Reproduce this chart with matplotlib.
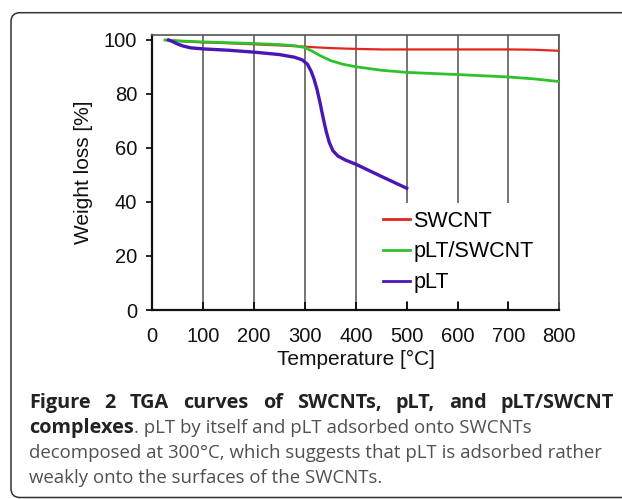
import matplotlib
matplotlib.use('Agg')
import matplotlib.pyplot as plt
from matplotlib.patches import FancyBboxPatch
from matplotlib.transforms import IdentityTransform

# TGA data
temp_swcnt = [25, 60, 100, 150, 200, 250, 300, 350, 400, 450, 500, 600, 700, 750, 800]
wt_swcnt = [100, 99.5, 99.1, 98.8, 98.4, 98.0, 97.5, 97.0, 96.7, 96.5, 96.5, 96.5, 96.5, 96.4, 96.0]

temp_complex = [25, 60, 100, 150, 200, 250, 280, 300, 315, 330, 350, 375, 400, 450, 500, 600, 700, 750, 800]
wt_complex = [100, 99.6, 99.3, 99.0, 98.7, 98.3, 97.9, 97.2, 95.8, 94.2, 92.4, 91.0, 90.1, 88.8, 88.0, 87.2, 86.3, 85.6, 84.6]

temp_plt = [32, 40, 50, 60, 75, 100, 150, 200, 250, 280, 295, 305, 312, 318, 324, 330, 336, 342, 348, 355, 365, 380, 400, 450, 500]
wt_plt = [100, 99.4, 98.5, 97.8, 97.1, 96.7, 96.2, 95.5, 94.6, 93.6, 92.6, 91.0, 88.5, 85.5, 81.5, 76.5, 71.0, 66.0, 62.0, 59.0, 57.0, 55.5, 54.0, 49.5, 45.1]

x_ticks = [0, 100, 200, 300, 400, 500, 600, 700, 800]
y_ticks = [0, 20, 40, 60, 80, 100]

W, H = 622, 499
fig = plt.figure(figsize=(W / 100, H / 100), dpi=100)

# rounded caption frame
frame = FancyBboxPatch((11, 1.5), 720, 484.8, boxstyle='round,pad=0,rounding_size=9',
                       transform=IdentityTransform(), facecolor='none',
                       edgecolor='#333333', linewidth=1.1)
fig.patches.append(frame)

ax = fig.add_axes([152.3 / W, 1 - 310 / H, 407 / W, 275 / H])
ax.plot(temp_swcnt, wt_swcnt, color='#e3251f', lw=1.6, label='SWCNT', zorder=3)
ax.plot(temp_complex, wt_complex, color='#2ec12e', lw=2.0, label='pLT/SWCNT', zorder=3)
ax.plot(temp_plt, wt_plt, color='#4b16b6', lw=2.4, label='pLT', zorder=3)

ax.set_xlim(0, 800)
ax.set_ylim(0, 101.85)
ax.set_xticks(x_ticks)
ax.set_yticks(y_ticks)
ax.grid(axis='x', color='#505050', lw=1.1)
ax.set_axisbelow(True)

font = 'Liberation Sans'
ax.tick_params(axis='x', direction='in', length=6, width=1.2, pad=12, labelsize=14.5)
ax.tick_params(axis='y', direction='out', length=4, width=1.2, pad=7, labelsize=14.5)
for lab in ax.get_xticklabels() + ax.get_yticklabels():
    lab.set_family(font)
    lab.set_color('#111111')

for s in ['left', 'bottom']:
    ax.spines[s].set_linewidth(1.6)
    ax.spines[s].set_color('#111111')
for s in ['top', 'right']:
    ax.spines[s].set_linewidth(1.2)
    ax.spines[s].set_color('#555555')

ax.set_xlabel('Temperature [°C]', family=font, fontsize=15, labelpad=3, color='#111111')
ax.set_ylabel('Weight loss [%]', family=font, fontsize=15, labelpad=8, color='#111111')

leg = ax.legend(loc='upper left', bbox_to_anchor=(0.5487, 0.389), borderaxespad=0,
                prop={'family': font, 'size': 15.5}, handlelength=1.25, handletextpad=0.15,
                labelspacing=0.45, borderpad=0.36, frameon=True, fancybox=False,
                framealpha=1, facecolor='white', edgecolor='none')
leg.set_zorder(2.4)
for h in leg.get_lines():
    h.set_linewidth(2.0)

# caption
cap_font = 'Open Sans'
x0, x1 = 29, 614
fig.canvas.draw()
r = fig.canvas.get_renderer()

probe = fig.text(0, 0, 'decomposed at 300°C, which suggests that pLT is adsorbed rather',
                 family=cap_font, fontsize=13)
pw = probe.get_window_extent(r).width
probe.remove()
cap_size = 13 * 569 / pw
bold_size = cap_size * 1.07

bold_words = 'Figure 2 TGA curves of SWCNTs, pLT, and pLT/SWCNT'.split()
texts = [fig.text(0, 1 - 408 / H, w, family=cap_font, fontweight='bold', fontsize=bold_size,
                  color='#222222', va='baseline') for w in bold_words]
fig.canvas.draw()
widths = [t.get_window_extent(r).width for t in texts]
gap = (x1 - x0 - sum(widths)) / (len(texts) - 1)
x = x0
for t, wd in zip(texts, widths):
    t.set_x(x / W)
    x += wd + gap

b = fig.text(x0 / W, 1 - 433 / H, 'complexes', family=cap_font, fontweight='bold',
             fontsize=bold_size, color='#222222', va='baseline')
fig.canvas.draw()
bw = b.get_window_extent(r).width
fig.text((x0 + bw) / W, 1 - 433 / H, '. pLT by itself and pLT adsorbed onto SWCNTs',
         family=cap_font, fontsize=cap_size, color='#505050', va='baseline')
fig.text(x0 / W, 1 - 458 / H, 'decomposed at 300°C, which suggests that pLT is adsorbed rather',
         family=cap_font, fontsize=cap_size, color='#505050', va='baseline')
fig.text(x0 / W, 1 - 483 / H, 'weakly onto the surfaces of the SWCNTs.',
         family=cap_font, fontsize=cap_size, color='#505050', va='baseline')

fig.savefig('out.png', dpi=100)
